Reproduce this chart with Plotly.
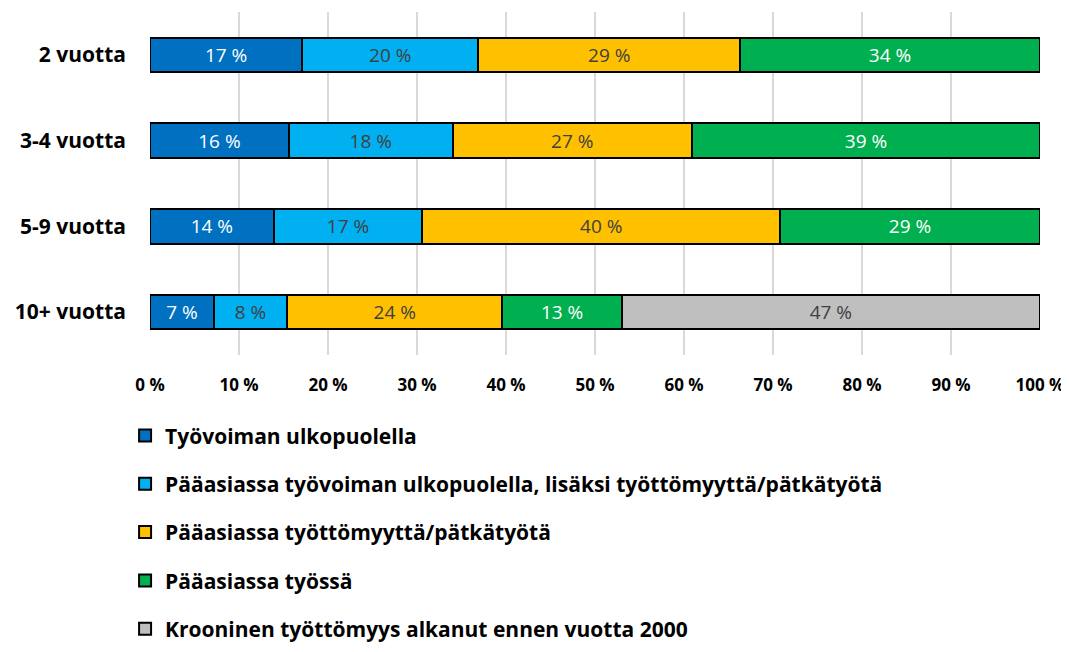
import plotly.graph_objects as go

categories = ["2 vuotta", "3-4 vuotta", "5-9 vuotta", "10+ vuotta"]
series_names = [
    "Työvoiman ulkopuolella",
    "Pääasiassa työvoiman ulkopuolella, lisäksi työttömyyttä/pätkätyötä",
    "Pääasiassa työttömyyttä/pätkätyötä",
    "Pääasiassa työssä",
    "Krooninen työttömyys alkanut ennen vuotta 2000",
]
tyovoiman_ulkopuolella = [17.1, 15.6, 13.9, 7.2]
paaasiassa_ulkopuolella_lisaksi = [19.8, 18.4, 16.7, 8.2]
paaasiassa_tyottomyytta = [29.4, 26.9, 40.2, 24.2]
paaasiassa_tyossa = [33.7, 39.1, 29.2, 13.4]
krooninen = [None, None, None, 47.0]
tick_values = [0, 10, 20, 30, 40, 50, 60, 70, 80, 90, 100]
tick_labels = [f"{v} %" for v in tick_values]

colors = ["#0070C0", "#00B0F0", "#FFC000", "#00B050", "#BFBFBF"]
text_colors = ["white", "#404040", "#404040", "white", "#404040"]
all_series = [tyovoiman_ulkopuolella, paaasiassa_ulkopuolella_lisaksi,
              paaasiassa_tyottomyytta, paaasiassa_tyossa, krooninen]

FONT = "'Open Sans', Carlito, Calibri, sans-serif"

fig = go.Figure()
for i, (name, vals) in enumerate(zip(series_names, all_series)):
    fig.add_trace(go.Bar(
        y=categories, x=vals, name=name, orientation="h",
        marker=dict(color=colors[i], line=dict(color="black", width=2)),
        texttemplate="%{x:.0f} %", textposition="inside",
        insidetextanchor="middle", textangle=0, constraintext="none",
        textfont=dict(family=FONT, size=19, color=text_colors[i]),
        legendgroup=f"g{i}", width=0.4,
        hoverinfo="skip",
    ))

fig.update_layout(
    barmode="stack",
    width=1061, height=636,
    margin=dict(l=142, r=29, t=4, b=289, autoexpand=False),
    plot_bgcolor="white", paper_bgcolor="white",
    font=dict(family=FONT, color="black"),
    xaxis=dict(range=[0, 100], tickvals=tick_values, ticktext=tick_labels,
               showgrid=True, gridcolor="#D9D9D9", gridwidth=1.5,
               zeroline=False, showline=False,
               tickfont=dict(family=FONT, size=17, color="black", weight="bold"),
               ticks="", ticklabelstandoff=18, fixedrange=True),
    yaxis=dict(autorange=False, range=[3.5, -0.5], categoryorder="array",
               categoryarray=categories,
               tickfont=dict(family=FONT, size=21, color="black", weight="bold"),
               ticks="", ticklabelstandoff=23, showgrid=False, showline=False,
               zeroline=False, fixedrange=True),
    showlegend=True,
    legend=dict(orientation="v", x=-0.028, xanchor="left", y=-0.176, yanchor="top",
                traceorder="grouped", tracegroupgap=18,
                font=dict(family=FONT, size=21, color="black", weight="bold"),
                itemwidth=30, bgcolor="rgba(0,0,0,0)"),
)

fig.write_html("out.html")
